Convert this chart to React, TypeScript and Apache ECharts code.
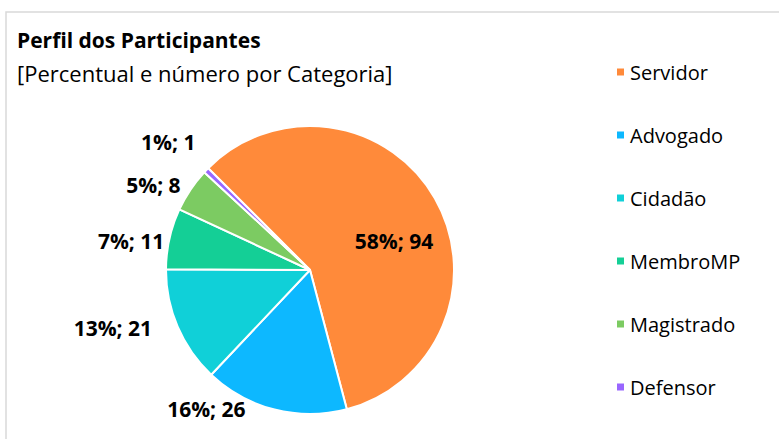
import React, { useEffect, useRef } from "react";
import * as echarts from "echarts";

const categories = ["Servidor", "Advogado", "Cidadão", "MembroMP", "Magistrado", "Defensor"];
const counts = [94, 26, 21, 11, 8, 1];
const colors = ["#FF8A3A", "#0DB8FF", "#10D0D8", "#14CF96", "#7CCB62", "#9966FF"];

// label nudges (styling only), mimicking Excel's best-fit label placement
const labelNudge: [number, number][] = [
  [0, 0],
  [-22, -8],
  [-18, -2],
  [3, 4],
  [1, -3],
  [0, -23],
];

const FONT = "'Open Sans', 'Noto Sans', sans-serif";

export default function App() {
  const ref = useRef<HTMLDivElement>(null);
  useEffect(() => {
    document.body.style.margin = "0";
    const chart = echarts.init(ref.current!, null, { renderer: "svg" });
    const data = categories.map((name, i) => ({
      name,
      value: counts[i],
      itemStyle: { color: colors[i] },
      label: i === 0 ? { position: "inside" as const, offset: [19, 8] } : undefined,
    }));
    chart.setOption({
      animation: false,
      backgroundColor: "#fff",
      textStyle: { fontFamily: FONT },
      graphic: [
        {
          type: "rect",
          shape: { x: 6, y: 12, width: 800, height: 500 },
          style: { fill: "none", stroke: "#D9D9D9", lineWidth: 1.5 },
          silent: true,
        },
      ],
      title: {
        text: "Perfil dos Participantes",
        subtext: "[Percentual e número por Categoria]",
        left: 12,
        top: 24,
        itemGap: 12,
        textStyle: { fontFamily: FONT, fontSize: 21, fontWeight: "bold", color: "#000" },
        subtextStyle: { fontFamily: FONT, fontSize: 22, color: "#000" },
      },
      legend: {
        orient: "vertical",
        left: 610,
        top: 57,
        itemWidth: 9,
        itemHeight: 9,
        itemGap: 43,
        icon: "rect",
        data: categories,
        textStyle: { fontFamily: FONT, fontSize: 20, color: "#000" },
      },
      series: [
        {
          type: "pie",
          center: [310, 270],
          radius: 144,
          startAngle: 135,
          clockwise: true,
          data,
          itemStyle: { borderColor: "#fff", borderWidth: 2 },
          label: {
            show: true,
            position: "outside",
            formatter: (p: any) => `${Math.round(p.percent)}%; ${p.value}`,
            fontFamily: FONT,
            fontSize: 21,
            fontWeight: "bold",
            color: "#000",
          },
          labelLine: { show: false, length: 8, length2: 0 },
          labelLayout: (params: any) => {
            const n = labelNudge[params.dataIndex] || [0, 0];
            return { dx: n[0], dy: n[1] };
          },
        },
      ],
    });
    return () => chart.dispose();
  }, []);
  return <div ref={ref} style={{ width: 779, height: 439 }} />;
}
